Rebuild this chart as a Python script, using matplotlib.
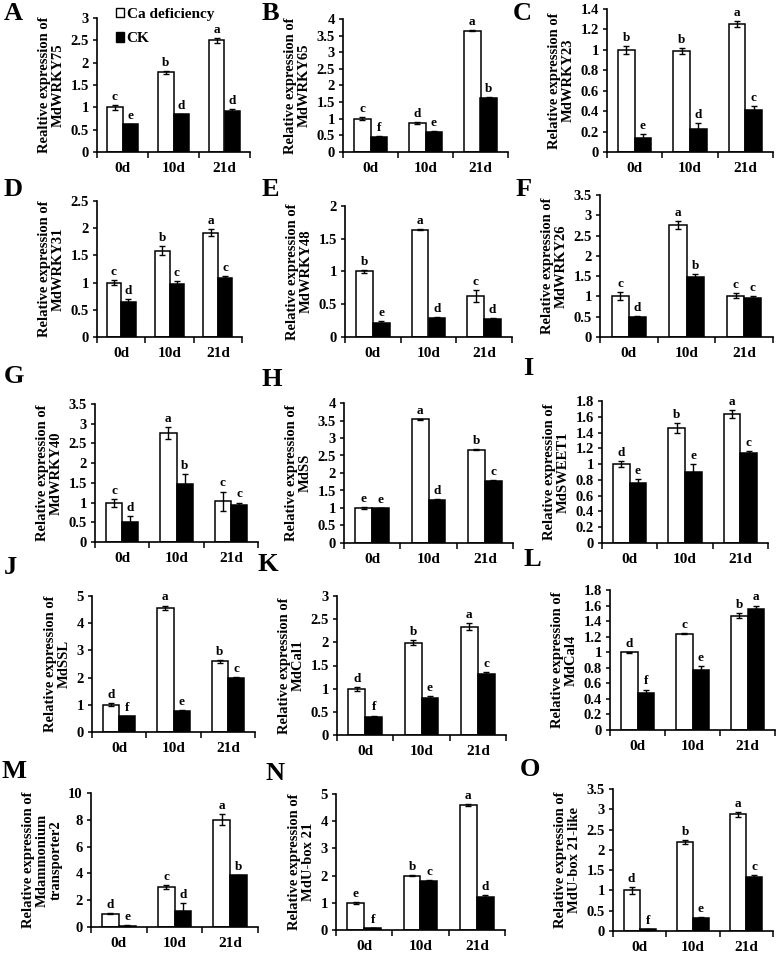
import matplotlib
matplotlib.use("Agg")
import matplotlib.pyplot as plt
from matplotlib.patches import Patch
from matplotlib.ticker import FuncFormatter
import numpy as np

plt.rcParams["font.family"] = ["Liberation Serif", "DejaVu Serif"]
plt.rcParams["font.weight"] = "bold"

days = ["0d", "10d", "21d"]
tags = list("ABCDEFGHIJKLMNO")
ylabels = [
    "Realtive expression of\nMdWRKY75",
    "Relative expression of\nMdWRKY65",
    "Relative expression of\nMdWRKY23",
    "Relative expression of\nMdWRKY31",
    "Relative expression of\nMdWRKY48",
    "Relative expression of\nMdWRKY26",
    "Relative expression of\nMdWRKY40",
    "Relative expression of\nMdSS",
    "Relative expression of\nMdSWEET1",
    "Relative expression of\nMdSSL",
    "Relative expression of\nMdCal1",
    "Relative expression of\nMdCal4",
    "Relative expression of\nMdammonium\ntransporter2",
    "Relative expression of\nMdU-box 21",
    "Relative expression of\nMdU-box 21-like",
]

# Ca deficiency (white bars)
ca_mean = [
    [1.0, 1.78, 2.50], [1.0, 0.87, 3.65], [1.0, 0.99, 1.25],
    [1.0, 1.59, 1.92], [1.0, 1.64, 0.63], [1.0, 2.75, 1.02],
    [1.0, 2.76, 1.03], [1.0, 3.53, 2.67], [1.0, 1.46, 1.63],
    [1.0, 4.57, 2.60], [1.0, 1.99, 2.34], [1.0, 1.24, 1.47],
    [1.0, 3.00, 8.00], [1.0, 2.00, 4.60], [1.0, 2.19, 2.88],
]
ca_err = [
    [0.05, 0.04, 0.06], [0.04, 0.03, 0.02], [0.04, 0.03, 0.03],
    [0.04, 0.08, 0.07], [0.02, 0.01, 0.09], [0.10, 0.10, 0.07],
    [0.10, 0.15, 0.25], [0.04, 0.02, 0.02], [0.04, 0.06, 0.05],
    [0.05, 0.08, 0.05], [0.04, 0.05, 0.08], [0.005, 0.01, 0.03],
    [0.05, 0.15, 0.40], [0.04, 0.03, 0.03], [0.08, 0.05, 0.06],
]
ca_letters = [
    "cba", "cda", "bba", "cba", "bac", "cac", "cac", "eab",
    "dba", "dab", "dba", "dcb", "dca", "eba", "dba",
]

# CK (black bars)
ck_mean = [
    [0.62, 0.84, 0.91], [0.46, 0.61, 1.63], [0.14, 0.23, 0.41],
    [0.64, 0.97, 1.08], [0.22, 0.29, 0.28], [0.50, 1.48, 0.95],
    [0.50, 1.48, 0.95], [1.00, 1.22, 1.76], [0.76, 0.90, 1.14],
    [0.57, 0.76, 2.00], [0.38, 0.79, 1.32], [0.48, 0.77, 1.56],
    [0.10, 1.20, 3.85], [0.07, 1.80, 1.22], [0.04, 0.32, 1.32],
]
ck_err = [
    [0.01, 0.01, 0.05], [0.01, 0.02, 0.03], [0.04, 0.05, 0.04],
    [0.05, 0.06, 0.04], [0.02, 0.01, 0.01], [0.01, 0.08, 0.06],
    [0.15, 0.25, 0.05], [0.01, 0.04, 0.03], [0.05, 0.10, 0.03],
    [0.03, 0.05, 0.03], [0.04, 0.05, 0.04], [0.04, 0.05, 0.04],
    [0.02, 0.60, 0.05], [0.01, 0.03, 0.06], [0.005, 0.03, 0.06],
]
ck_letters = [
    "edd", "feb", "edc", "dcc", "edd", "dbc", "dbc", "edc",
    "eec", "fec", "fec", "fea", "edb", "fcd", "fec",
]

y_max = [3, 4, 1.4, 2.5, 2, 3.5, 3.5, 4, 1.8, 5, 3, 1.8, 10, 5, 3.5]
y_step = [0.5, 0.5, 0.2, 0.5, 0.5, 0.5, 0.5, 0.5, 0.2, 1, 0.5, 0.2, 2, 1, 0.5]

# axes boxes in pixels: left, right, top, bottom
boxes = [
    (97, 250, 18, 152), (343, 508, 19, 152), (607, 773, 9, 152),
    (97, 242, 201, 337), (345, 512, 206, 337), (600, 773, 195, 337),
    (95, 258, 404, 542), (344, 513, 403, 543), (602, 768, 401, 543),
    (92, 255, 596, 732), (337, 506, 596, 735), (610, 775, 590, 730),
    (91, 258, 793, 927), (336, 505, 794, 930), (613, 773, 789, 931),
]
tag_pos = [
    (4, 2), (262, 2), (513, 2),
    (4, 178), (262, 178), (516, 178),
    (4, 365), (262, 368), (523, 357),
    (4, 556), (258, 553), (523, 548),
    (2, 760), (265, 762), (520, 758),
]

W, H = 777, 955
fig = plt.figure(figsize=(W / 100, H / 100), dpi=100)


def draw_panel(ax, i):
    x = np.arange(3)
    w = 0.3
    ekw = dict(elinewidth=1.0, capthick=1.0, ecolor="black")
    ax.bar(x - w / 2, ca_mean[i], w, color="white", edgecolor="black",
           linewidth=1.1, yerr=ca_err[i], capsize=2, error_kw=ekw)
    ax.bar(x + w / 2, ck_mean[i], w, color="black", edgecolor="black",
           linewidth=1.1, yerr=ck_err[i], capsize=2, error_kw=ekw)
    for xs, means, errs, labs in ((x - w / 2, ca_mean[i], ca_err[i], ca_letters[i]),
                                  (x + w / 2, ck_mean[i], ck_err[i], ck_letters[i])):
        for xi, v, e, t in zip(xs, means, errs, labs):
            ax.annotate(t, (xi, v + e), xytext=(0, 1.5), textcoords="offset points",
                        ha="center", va="bottom", fontsize=9.5, fontweight="bold")
    ax.set_xlim(-0.5, 2.5)
    ax.set_ylim(0, y_max[i])
    ax.set_yticks(np.round(np.arange(0, y_max[i] + y_step[i] / 2, y_step[i]), 3))
    ax.yaxis.set_major_formatter(FuncFormatter(lambda v, _: f"{v:g}"))
    ax.set_xticks(x)
    ax.set_xticklabels(days)
    ax.set_xticks([-0.5, 0.5, 1.5, 2.5], minor=True)
    ax.tick_params(axis="x", which="major", length=0, labelsize=11, pad=7)
    ax.tick_params(axis="x", which="minor", length=4, width=1.1, direction="out")
    ax.tick_params(axis="y", length=3, width=1.1, labelsize=10.5, direction="out", pad=3)
    for s in ("top", "right"):
        ax.spines[s].set_visible(False)
    for s in ("left", "bottom"):
        ax.spines[s].set_linewidth(1.2)
    ax.set_ylabel(ylabels[i], fontsize=10.5, fontweight="bold", linespacing=1.05, labelpad=4)


for i in range(15):
    l, r, t, b = boxes[i]
    ax = fig.add_axes([l / W, 1 - b / H, (r - l) / W, (b - t) / H])
    draw_panel(ax, i)
    if i == 0:
        handles = [Patch(facecolor="white", edgecolor="black", linewidth=1.0),
                   Patch(facecolor="black", edgecolor="black", linewidth=1.0)]
        ax.legend(handles, ["Ca deficiency", "CK"], loc="upper left",
                  bbox_to_anchor=(116 / W, 1 - 8 / H), bbox_transform=fig.transFigure,
                  frameon=False, fontsize=11, handlelength=0.55, handleheight=0.55,
                  handletextpad=0.15, labelspacing=0.75, borderpad=0, borderaxespad=0)
    tx, ty = tag_pos[i]
    fig.text(tx / W, 1 - ty / H, tags[i], fontsize=19, fontweight="bold",
             ha="left", va="top")

fig.savefig("out.png", dpi=100)
